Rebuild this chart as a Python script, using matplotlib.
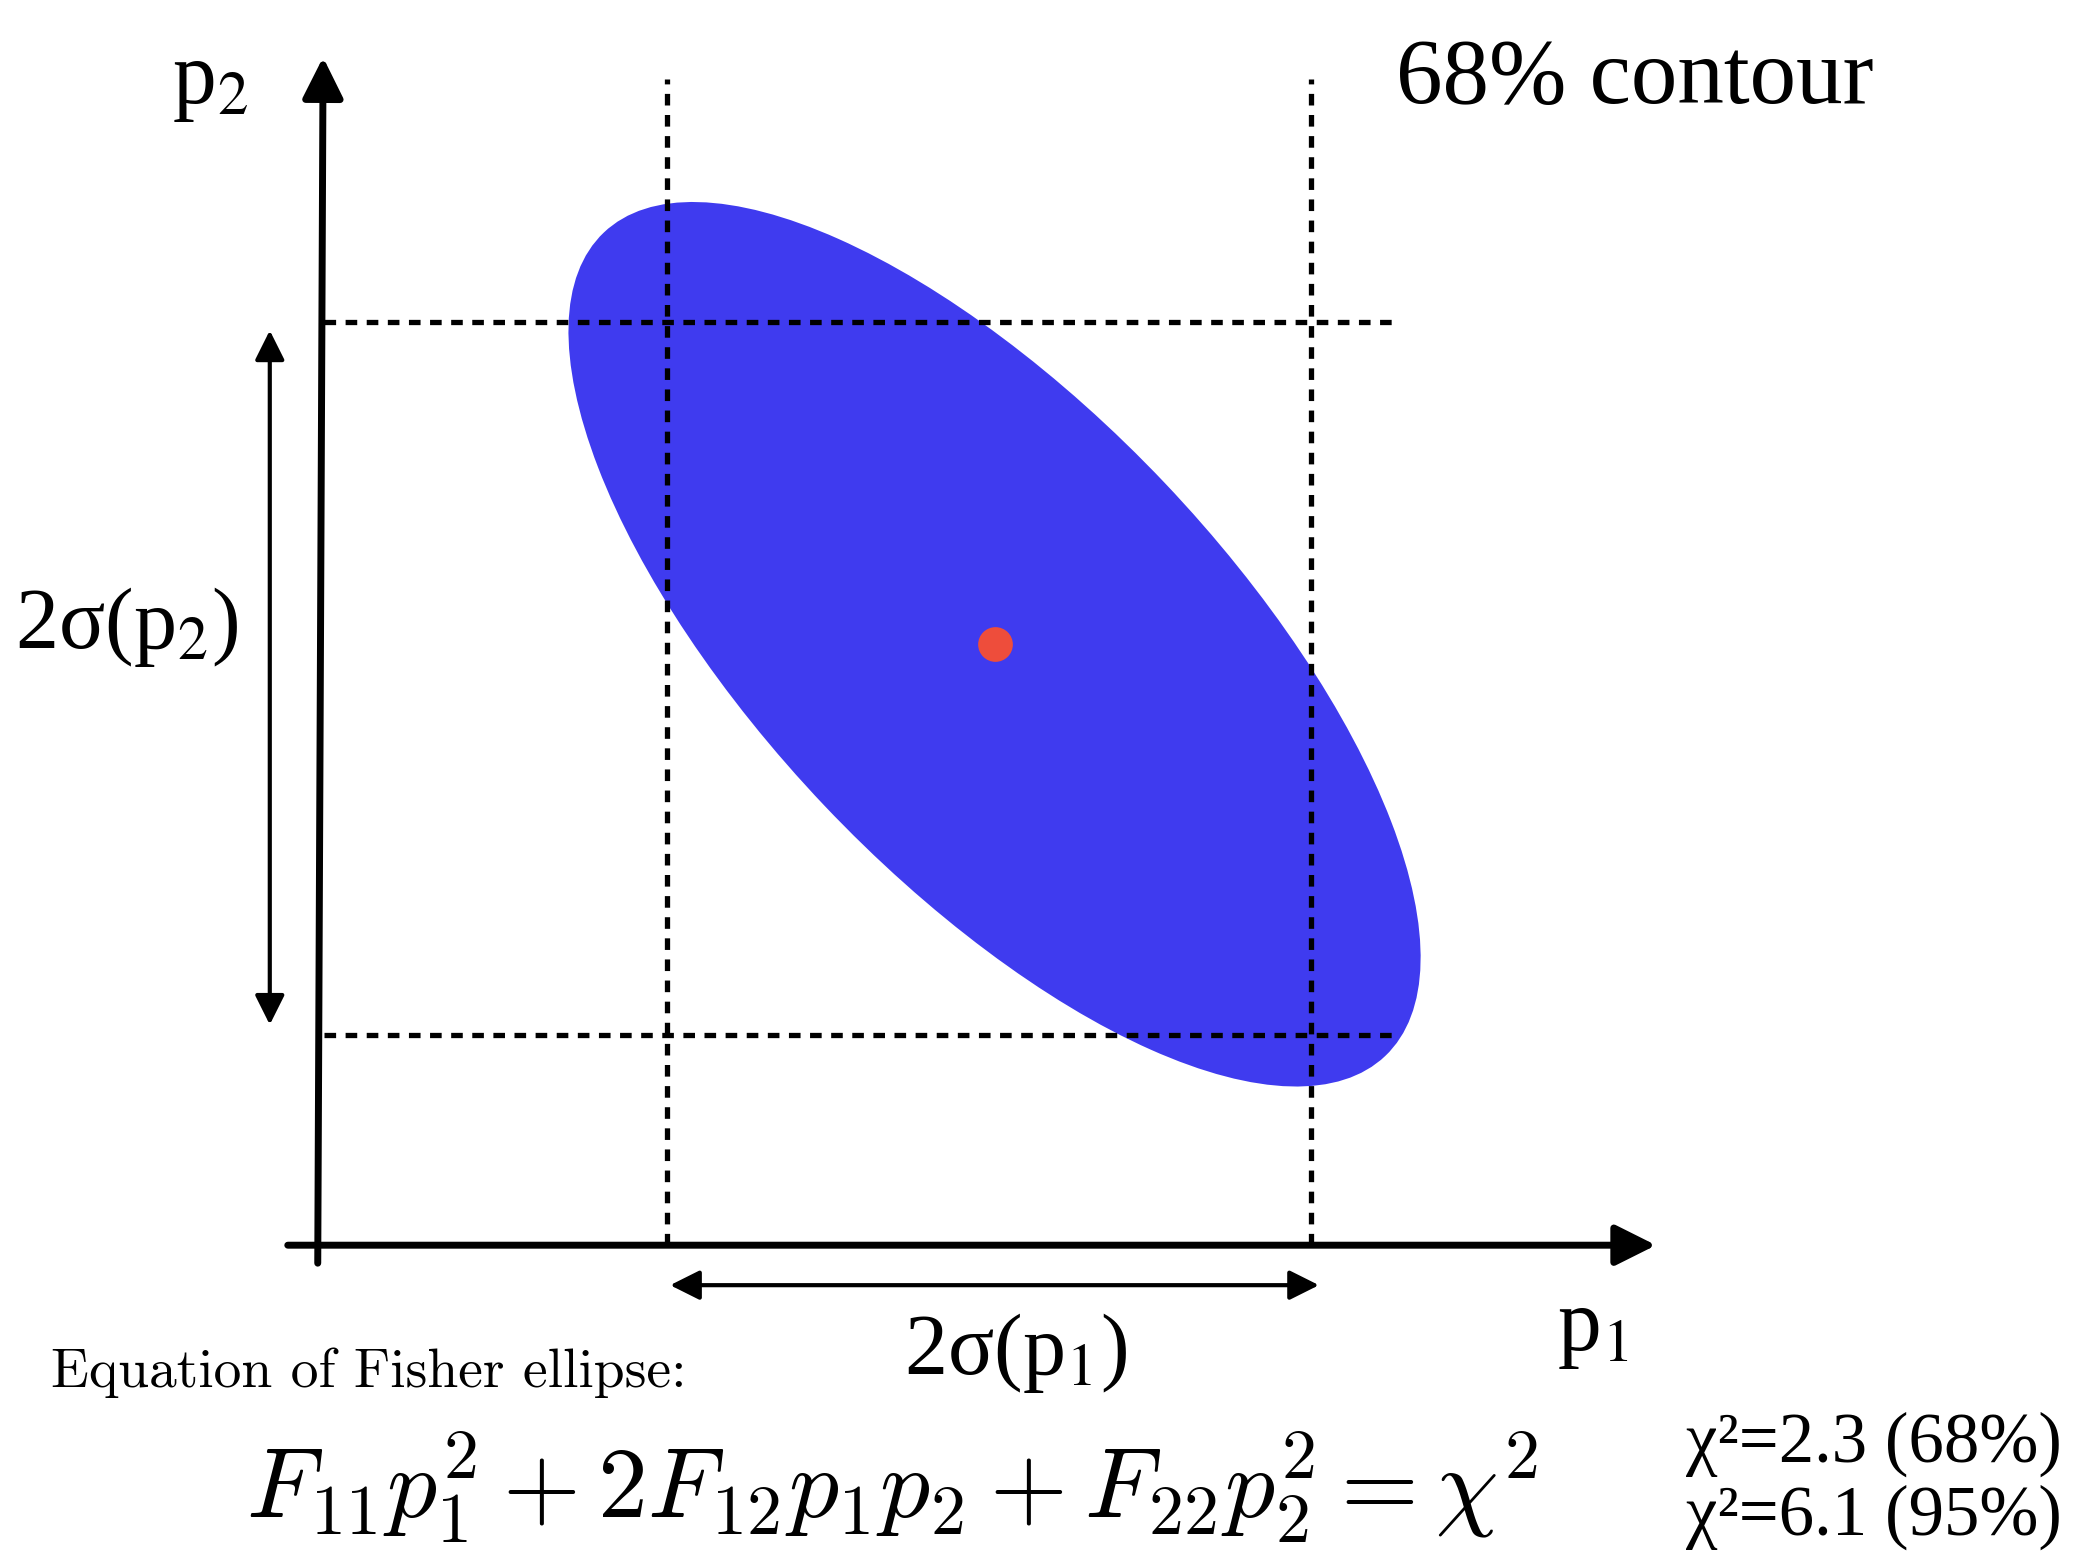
import numpy as np
import matplotlib.pyplot as plt
from matplotlib.patches import Ellipse

# diagram units: 1 unit = 100 px of the 1568-wide picture, origin where the axes cross
center = [5.08, 4.51]                  # best-fit point (p1, p2)
ell_width, ell_height, ell_angle = 8.52, 3.52, -46.5
sig_p1 = [2.625, 7.455]                # vertical dotted lines
sig_p2 = [1.575, 6.93]                 # horizontal dotted lines
dash_top = 8.755                       # where the vertical dotted lines stop
dash_right = 8.125                     # where the horizontal dotted lines stop

# axis arrows (start -> tip)
x_axis = [(-0.225, 0.0), (10.045, 0.0)]
y_axis = [(0.0, -0.135), (0.04, 8.915)]
# double arrows showing the 2-sigma widths
arrow_p1 = [(2.645, -0.30), (7.515, -0.30)]
arrow_p2 = [(-0.36, 6.865), (-0.36, 1.655)]

ellipse_color = '#3F3BEF'
dot_color = '#EE4D3B'

fig = plt.figure(figsize=(20.89, 15.55), dpi=100)
ax = fig.add_axes([0, 0, 1, 1])
ax.set_xlim(-2.385, 13.295)
ax.set_ylim(-2.325, 9.345)
ax.axis('off')

# the 68% ellipse and its centre
ax.add_patch(Ellipse(center, ell_width, ell_height, angle=ell_angle,
                     facecolor=ellipse_color, edgecolor='none', zorder=1))
ax.plot(center[0], center[1], 'o', color=dot_color, markersize=25,
        markeredgewidth=0, zorder=3)

# dotted projection lines
dash = (0, (2.2, 1.8))
for x in sig_p1:
    ax.plot([x, x], [0, dash_top], color='k', lw=3.8, ls=dash, zorder=2)
for y in sig_p2:
    ax.plot([0.045, dash_right], [y, y], color='k', lw=3.8, ls=dash, zorder=2)

# axes
for start, tip in [x_axis, y_axis]:
    ax.annotate('', xy=tip, xytext=start,
                arrowprops=dict(arrowstyle='-|>', lw=5, color='k',
                                mutation_scale=62, shrinkA=0, shrinkB=0),
                zorder=4)

# two-headed arrows
for start, tip in [arrow_p1, arrow_p2]:
    ax.annotate('', xy=tip, xytext=start,
                arrowprops=dict(arrowstyle='<|-|>', lw=3, color='k',
                                mutation_scale=45, shrinkA=0, shrinkB=0))

lab = dict(family='Liberation Serif', math_fontfamily='stix', color='k')
ax.text(-1.095, 8.57, 'p$_2$', fontsize=63, ha='left', va='baseline', **lab)
ax.text(9.305, -0.785, 'p$_1$', fontsize=63, ha='left', va='baseline', **lab)
ax.text(-2.275, 4.485, '2σ(p$_2$)', fontsize=62, ha='left', va='baseline', **lab)
ax.text(5.24, -0.965, '2σ(p$_1$)', fontsize=62, ha='center', va='baseline', **lab)
ax.text(8.095, 8.57, '68% contour', fontsize=67, ha='left', va='baseline', **lab)
ax.text(13.095, -1.625, 'χ²=2.3 (68%)', fontsize=51, ha='right', va='baseline', **lab)
ax.text(13.095, -2.175, 'χ²=6.1 (95%)', fontsize=51, ha='right', va='baseline', **lab)

ax.text(-2.005, -1.065, 'Equation of Fisher ellipse:', fontsize=40,
        family='cmr10', ha='left', va='baseline')
ax.text(-0.535, -2.04, r'$F_{11}p_1^2 + 2F_{12}p_1p_2 + F_{22}p_2^2 = \chi^2$',
        fontsize=72, math_fontfamily='cm', ha='left', va='baseline')

fig.savefig('out.png', dpi=100)
